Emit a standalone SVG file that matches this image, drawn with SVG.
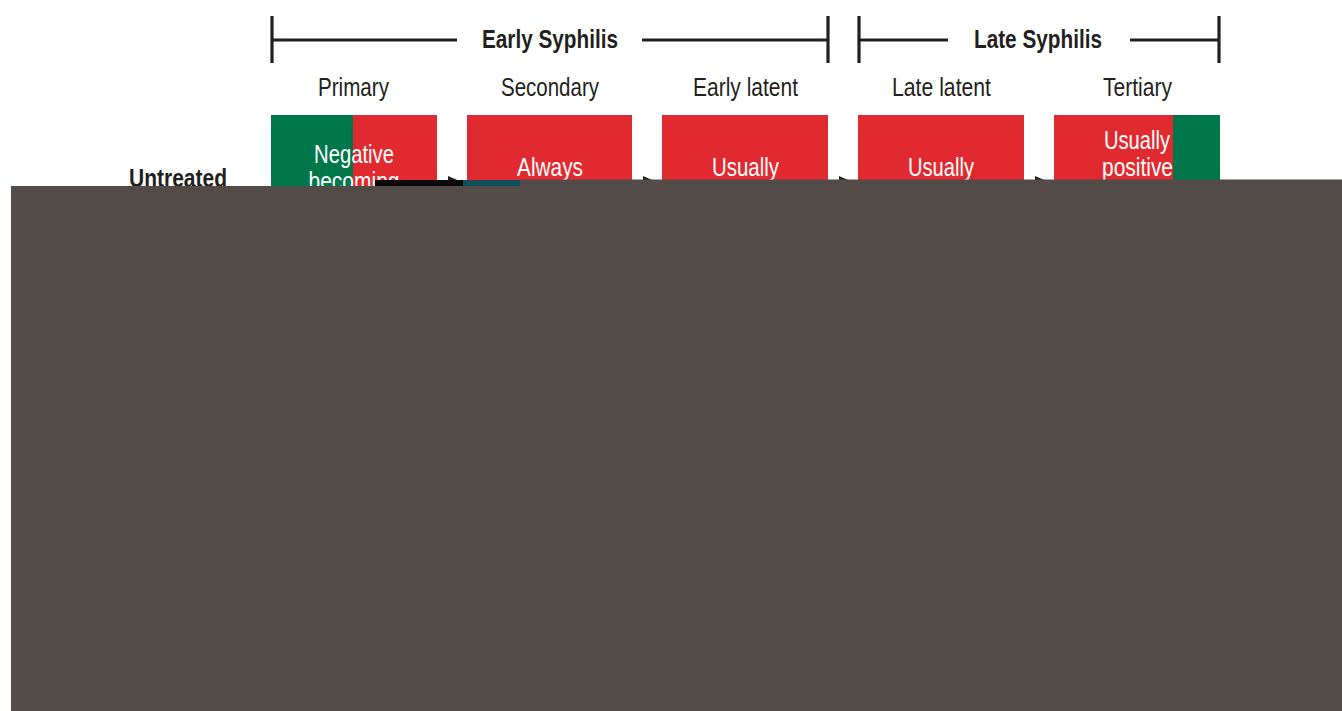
<svg xmlns="http://www.w3.org/2000/svg" width="1342" height="711" viewBox="0 0 1342 711">
<style>
.hdr{font-family:"Liberation Sans",Arial,sans-serif;font-size:25px;font-weight:bold;fill:#231f20;text-anchor:middle}
.col{font-family:"Liberation Sans",Arial,sans-serif;font-size:25px;fill:#231f20;text-anchor:middle}
.bx{font-family:"Liberation Sans",Arial,sans-serif;font-size:25px;fill:#ffffff;text-anchor:middle}
.br{stroke:#231f20;stroke-width:3.2;fill:none}
.red{fill:#e12a2f}
.grn{fill:#00774a}
.arr{stroke:#231f20;stroke-width:3;marker-end:url(#ah)}
</style>
<defs>
<marker id="ah" markerWidth="14" markerHeight="12" refX="14" refY="6" orient="auto" markerUnits="userSpaceOnUse" viewBox="0 0 14 12">
<path d="M0,0 L14,6 L0,12 Z" fill="#231f20"/>
</marker>
</defs>
<rect width="1342" height="711" fill="#ffffff"/>
<g id="early-bracket">
<path class="br" d="M272,16 V63 M272,40 H457 M642,40 H828 M828,16 V63"/>
<text class="hdr" x="550" y="48" textLength="136" lengthAdjust="spacingAndGlyphs">Early Syphilis</text>
</g>
<g id="late-bracket">
<path class="br" d="M859,16 V63 M859,40 H948 M1130,40 H1219 M1219,16 V63"/>
<text class="hdr" x="1038" y="48" textLength="128" lengthAdjust="spacingAndGlyphs">Late Syphilis</text>
</g>
<g id="headers">
<text class="col" x="353.5" y="96" textLength="71" lengthAdjust="spacingAndGlyphs">Primary</text>
<text class="col" x="550" y="96" textLength="98" lengthAdjust="spacingAndGlyphs">Secondary</text>
<text class="col" x="745.5" y="96" textLength="105" lengthAdjust="spacingAndGlyphs">Early latent</text>
<text class="col" x="941.5" y="96" textLength="99" lengthAdjust="spacingAndGlyphs">Late latent</text>
<text class="col" x="1137.5" y="96" textLength="69" lengthAdjust="spacingAndGlyphs">Tertiary</text>
</g>
<g id="row-label">
<text class="hdr" x="178" y="187" textLength="98" lengthAdjust="spacingAndGlyphs">Untreated</text>
</g>
<g id="connectors">
<line class="arr" x1="437" y1="182" x2="462" y2="182"/>
<line class="arr" x1="632" y1="182" x2="657" y2="182"/>
<line class="arr" x1="828" y1="182" x2="853" y2="182"/>
<line class="arr" x1="1024" y1="182" x2="1049" y2="182"/>
</g>
<g id="node-primary">
<rect class="grn" x="271" y="115" width="82" height="120"/>
<rect class="red" x="353" y="115" width="84" height="120"/>
<text class="bx" x="354" y="163" textLength="80" lengthAdjust="spacingAndGlyphs">Negative</text>
<text class="bx" x="354" y="190" textLength="91" lengthAdjust="spacingAndGlyphs">becoming</text>
</g>
<g id="node-secondary">
<rect class="red" x="467" y="115" width="165" height="120"/>
<text class="bx" x="550" y="176" textLength="66" lengthAdjust="spacingAndGlyphs">Always</text>
</g>
<g id="node-early-latent">
<rect class="red" x="662" y="115" width="166" height="120"/>
<text class="bx" x="745.5" y="176" textLength="67" lengthAdjust="spacingAndGlyphs">Usually</text>
</g>
<g id="node-late-latent">
<rect class="red" x="858" y="115" width="166" height="120"/>
<text class="bx" x="941" y="176" textLength="66" lengthAdjust="spacingAndGlyphs">Usually</text>
</g>
<g id="node-tertiary">
<rect class="red" x="1054" y="115" width="119" height="120"/>
<rect class="grn" x="1173" y="115" width="47" height="120"/>
<text class="bx" x="1137" y="149" textLength="66" lengthAdjust="spacingAndGlyphs">Usually</text>
<text class="bx" x="1137.5" y="176" textLength="71" lengthAdjust="spacingAndGlyphs">positive</text>
</g>
<g id="cover">
<rect x="375" y="180" width="88" height="6" fill="#0a0a0a"/>
<rect x="463" y="180" width="57" height="6" fill="#0f4f5a"/>
<rect x="11" y="186" width="1331" height="525" fill="#524b48"/>
<rect x="520" y="179.5" width="822" height="7" fill="#524b48"/>
</g>
</svg>
